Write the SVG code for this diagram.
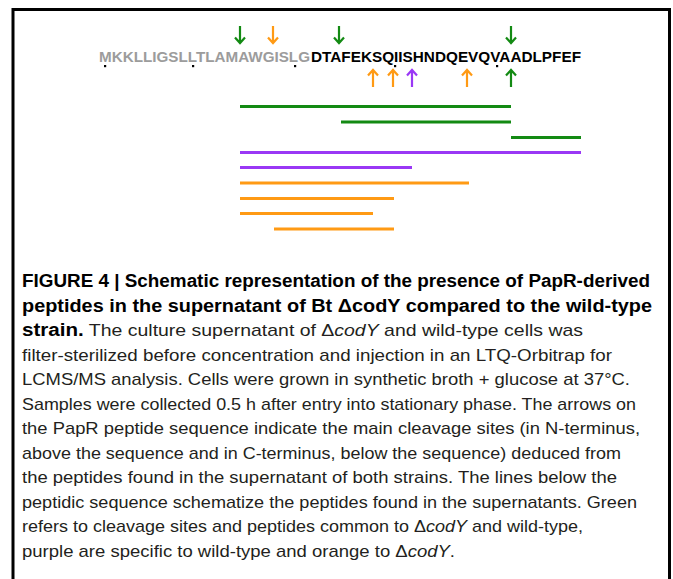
<svg xmlns="http://www.w3.org/2000/svg" width="673" height="579" viewBox="0 0 673 579">
<style>
.seq{font-family:"Liberation Sans",Arial,sans-serif;font-weight:bold;font-size:15px}
.gray{fill:#9c9c9c}
.blk{fill:#000}
.cap{font-family:"Liberation Sans",Arial,sans-serif;font-size:17px;fill:#231f20}
.b{font-weight:bold;fill:#000}
.i{font-style:italic}
.arr{fill:none;stroke-width:2.2;stroke-linecap:butt;stroke-linejoin:miter}
.g{stroke:#138a13}
.o{stroke:#ff9a14}
.p{stroke:#9a38f5}
.pep{stroke-width:3;fill:none}
</style>
<rect width="673" height="579" fill="#fff"/>
<path d="M13,580 V9.5 H669.5 V580" fill="none" stroke="#000" stroke-width="3"/>
<g id="sequence">
<text class="seq" y="62"><tspan class="gray" x="99" textLength="211" lengthAdjust="spacingAndGlyphs">MKKLLIGSLLTLAMAWGISLG</tspan><tspan class="blk" x="311" textLength="270" lengthAdjust="spacingAndGlyphs">DTAFEKSQIISHNDQEVQVAADLPFEF</tspan></text>
<g fill="#000"><rect x="104" y="65" width="2.2" height="2.2"/><rect x="192" y="65" width="2.2" height="2.2"/><rect x="294" y="65" width="2.2" height="2.2"/><rect x="394" y="65" width="2.2" height="2.2"/><rect x="496" y="65" width="2.2" height="2.2"/></g>
</g>
<g id="arrows-n-terminus">
<path class="arr g" d="M240,26 V43 M235,37.5 L240,43 L245,37.5"/>
<path class="arr o" d="M273,26 V43 M268,37.5 L273,43 L278,37.5"/>
<path class="arr g" d="M339,26 V43 M334,37.5 L339,43 L344,37.5"/>
<path class="arr g" d="M511,26 V43 M506,37.5 L511,43 L516,37.5"/>
</g>
<g id="arrows-c-terminus">
<path class="arr o" d="M373,87 V70 M368,75.5 L373,70 L378,75.5"/>
<path class="arr o" d="M393,87 V70 M388,75.5 L393,70 L398,75.5"/>
<path class="arr p" d="M412,87 V70 M407,75.5 L412,70 L417,75.5"/>
<path class="arr o" d="M467,87 V70 M462,75.5 L467,70 L472,75.5"/>
<path class="arr g" d="M511,87 V70 M506,75.5 L511,70 L516,75.5"/>
</g>
<g id="peptides">
<path class="pep g" d="M240,106.5 H511"/>
<path class="pep g" d="M341,122 H511"/>
<path class="pep g" d="M511,137.5 H581"/>
<path class="pep p" d="M240,152.5 H581"/>
<path class="pep p" d="M240,167.5 H412"/>
<path class="pep o" d="M240,183 H469"/>
<path class="pep o" d="M240,198.5 H394"/>
<path class="pep o" d="M240,213.5 H373"/>
<path class="pep o" d="M274,229 H394"/>
</g>
<g id="caption">
<text class="cap b" x="22" y="287" textLength="628" lengthAdjust="spacingAndGlyphs" style="font-size:18px">FIGURE 4 | Schematic representation of the presence of PapR-derived</text>
<text class="cap b" x="22" y="311.5" textLength="630" lengthAdjust="spacingAndGlyphs" style="font-size:18px">peptides in the supernatant of Bt ΔcodY compared to the wild-type</text>
<text class="cap" x="22" y="336" textLength="561" lengthAdjust="spacingAndGlyphs"><tspan class="b" style="font-size:18px">strain.</tspan> The culture supernatant of Δ<tspan class="i">codY</tspan> and wild-type cells was</text>
<text class="cap" x="22" y="360.5" textLength="590" lengthAdjust="spacingAndGlyphs">filter-sterilized before concentration and injection in an LTQ-Orbitrap for</text>
<text class="cap" x="22" y="385" textLength="608" lengthAdjust="spacingAndGlyphs">LCMS/MS analysis. Cells were grown in synthetic broth + glucose at 37°C.</text>
<text class="cap" x="22" y="409.5" textLength="614" lengthAdjust="spacingAndGlyphs">Samples were collected 0.5 h after entry into stationary phase. The arrows on</text>
<text class="cap" x="22" y="434" textLength="618" lengthAdjust="spacingAndGlyphs">the PapR peptide sequence indicate the main cleavage sites (in N-terminus,</text>
<text class="cap" x="22" y="458.5" textLength="599" lengthAdjust="spacingAndGlyphs">above the sequence and in C-terminus, below the sequence) deduced from</text>
<text class="cap" x="22" y="483" textLength="595" lengthAdjust="spacingAndGlyphs">the peptides found in the supernatant of both strains. The lines below the</text>
<text class="cap" x="22" y="507.5" textLength="615" lengthAdjust="spacingAndGlyphs">peptidic sequence schematize the peptides found in the supernatants. Green</text>
<text class="cap" x="22" y="532" textLength="561" lengthAdjust="spacingAndGlyphs">refers to cleavage sites and peptides common to Δ<tspan class="i">codY</tspan> and wild-type,</text>
<text class="cap" x="22" y="556.5" textLength="433" lengthAdjust="spacingAndGlyphs">purple are specific to wild-type and orange to Δ<tspan class="i">codY</tspan>.</text>
</g>
</svg>
